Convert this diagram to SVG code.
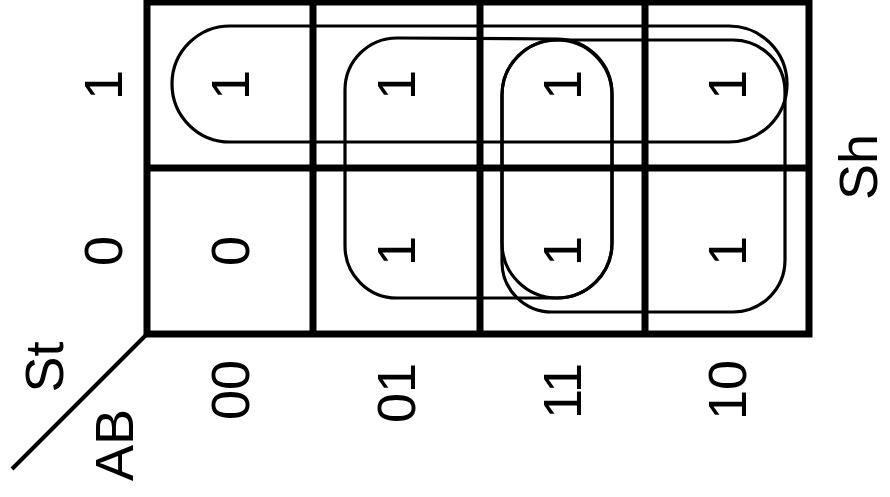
<svg xmlns="http://www.w3.org/2000/svg" width="890" height="497" viewBox="0 0 890 497">
<style>
.grid{fill:none;stroke:#000;stroke-width:7}
.loop{fill:none;stroke:#000;stroke-width:3.2}
.t{font-family:"Liberation Sans",Arial,sans-serif;font-size:54px;fill:#000;text-anchor:middle}
</style>
<rect width="890" height="497" fill="#fff"/>
<g id="grid">
<rect class="grid" x="147" y="2" width="662" height="332"/>
<line class="grid" x1="313" y1="2" x2="313" y2="334"/>
<line class="grid" x1="480" y1="2" x2="480" y2="334"/>
<line class="grid" x1="645" y1="2" x2="645" y2="334"/>
<line class="grid" x1="147" y1="168" x2="809" y2="168"/>
<line x1="147" y1="334" x2="12" y2="469" stroke="#000" stroke-width="4"/>
</g>
<g id="loops">
<rect id="loop-St" class="loop" x="172" y="26" width="615" height="116" rx="58" ry="58"/>
<rect id="loop-col11" class="loop" x="502" y="40" width="110" height="258" rx="55" ry="55"/>
<path id="loop-B" class="loop" d="M612,95 A55,55 0 0 0 557,39 L397,38 A52,52 0 0 0 345,90 L345,246 A52,52 0 0 0 397,298 L557,298 A55,55 0 0 0 612,243 Z"/>
<path id="loop-A" class="loop" d="M502,95 A55,55 0 0 1 557,40 L733,40 A52,52 0 0 1 785,92 L785,260 A52,52 0 0 1 733,312 L552,312 A50,50 0 0 1 502,262 Z"/>
</g>
<g id="cells">
<text class="t" transform="translate(230,85) rotate(-90)" y="19">1</text>
<text class="t" transform="translate(396,85) rotate(-90)" y="19">1</text>
<text class="t" transform="translate(562,85) rotate(-90)" y="19">1</text>
<text class="t" transform="translate(727,85) rotate(-90)" y="19">1</text>
<text class="t" transform="translate(230,251) rotate(-90)" y="19">0</text>
<text class="t" transform="translate(396,251) rotate(-90)" y="19">1</text>
<text class="t" transform="translate(562,251) rotate(-90)" y="19">1</text>
<text class="t" transform="translate(727,251) rotate(-90)" y="19">1</text>
</g>
<g id="labels">
<text class="t" transform="translate(103,85) rotate(-90)" y="19">1</text>
<text class="t" transform="translate(103,251) rotate(-90)" y="19">0</text>
<text class="t" transform="translate(230,390) rotate(-90)" y="19">00</text>
<text class="t" transform="translate(396,393) rotate(-90)" y="19">01</text>
<text class="t" transform="translate(562,391) rotate(-90)" y="19">11</text>
<text class="t" transform="translate(727,390) rotate(-90)" y="19">10</text>
<text class="t" transform="translate(63,367) rotate(-90)">St</text>
<text class="t" transform="translate(133,445) rotate(-90)">AB</text>
<text class="t" transform="translate(877,167) rotate(-90)">Sh</text>
</g>
</svg>
